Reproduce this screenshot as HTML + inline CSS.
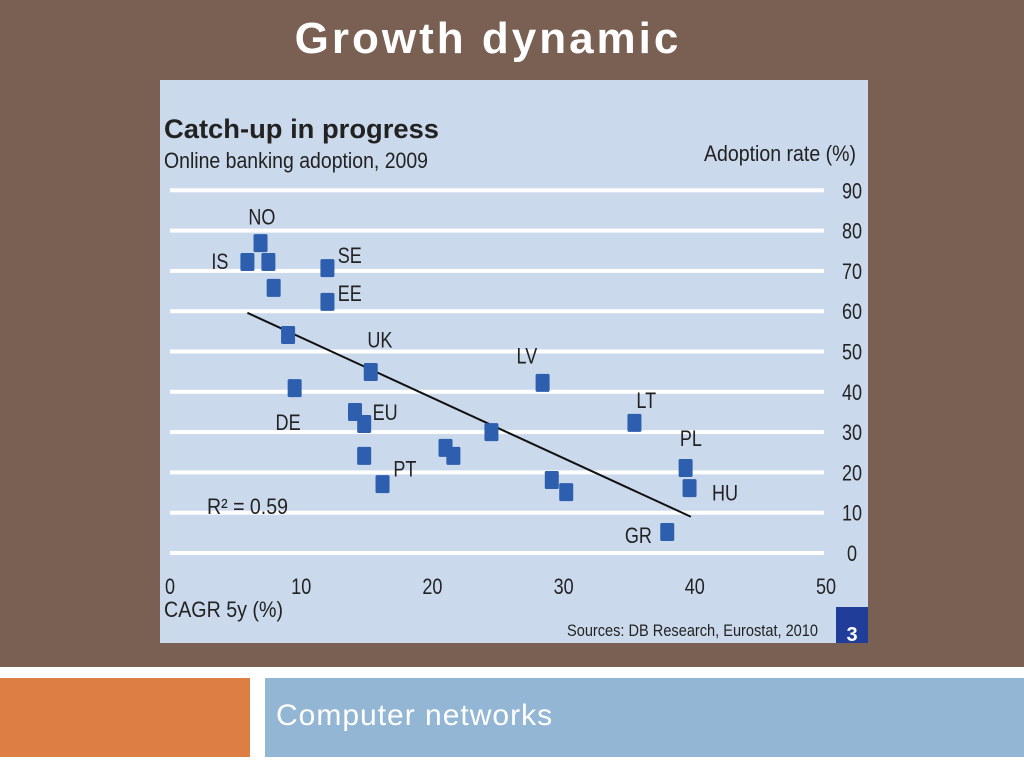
<!DOCTYPE html>
<html><head><meta charset="utf-8">
<style>
body{margin:0;width:1024px;height:768px;overflow:hidden;background:#fff;font-family:"Liberation Sans",sans-serif}
#top{position:absolute;left:0;top:0;width:1024px;height:667px;background:#7a5f53}
#title{position:absolute;left:0;width:976px;top:14px;text-align:center;color:#fff;font-size:44px;font-weight:bold;letter-spacing:3px}
#orange{position:absolute;left:0;top:678px;width:250px;height:79px;background:#dd7f45}
#blue{position:absolute;left:265px;top:678px;width:759px;height:79px;background:#93b6d4}
#foot{position:absolute;left:276px;top:699px;color:#fff;font-size:30px;letter-spacing:1px}
svg text{font-family:"Liberation Sans",sans-serif;fill:#222}
</style></head><body>
<div id="top"></div>
<div id="title">Growth dynamic</div>
<div id="orange"></div>
<div id="blue"></div>
<div id="foot">Computer networks</div>
<svg id="chart" style="position:absolute;left:0;top:0" width="1024" height="768">
<rect x="160" y="80" width="708" height="563" fill="#cbd9ec"/>
<g id="grid"></g>
<text x="164" y="138" font-size="27" font-weight="bold" fill="#1a1a1a" textLength="275" lengthAdjust="spacingAndGlyphs">Catch-up in progress</text>
<text x="164" y="168" font-size="22" textLength="264" lengthAdjust="spacingAndGlyphs">Online banking adoption, 2009</text>
<text x="704" y="161" font-size="22" textLength="152" lengthAdjust="spacingAndGlyphs">Adoption rate (%)</text>
<text x="164" y="617" font-size="22" textLength="119" lengthAdjust="spacingAndGlyphs">CAGR 5y (%)</text>
<text x="567" y="636" font-size="17" textLength="251" lengthAdjust="spacingAndGlyphs">Sources: DB Research, Eurostat, 2010</text>
<rect x="836" y="607" width="32" height="36" fill="#1f3d99"/>
<text x="852" y="641" font-size="20" font-weight="bold" text-anchor="middle" style="fill:#fff">3</text>
<text x="207" y="514" font-size="22" textLength="81" lengthAdjust="spacingAndGlyphs">R² = 0.59</text>
<g id="ticks"></g><g id="trend"></g><g id="pts"></g><g id="labels"></g>
</svg>
<script>
const yTicks=[0,10,20,30,40,50,60,70,80,90];
const xTicks=[0,10,20,30,40,50];
const cagr=[6.9,5.9,7.5,7.9,12.0,12.0,9.0,15.3,9.5,14.1,14.8,14.8,16.2,21.0,21.6,24.5,28.4,29.1,30.2,35.4,39.3,39.6,37.9];
const adoption=[76.9,72.2,72.2,65.8,70.7,62.3,54.1,44.9,40.9,35.0,32.0,24.1,17.1,26.1,24.1,30.0,42.2,18.1,15.1,32.3,21.1,16.1,5.2];
const labelText=["NO","IS","SE","EE","UK","DE","EU","PT","LV","LT","PL","HU","GR"];
const labelX=[7.0,3.8,13.7,13.7,16.0,9.0,16.4,17.9,27.2,36.3,39.7,42.3,35.7];
const labelY=[83.5,72.5,74.0,64.5,53.0,32.5,35.0,21.0,49.0,38.0,28.5,15.0,4.5];
const trendX=[5.9,39.7];
const trendY=[59.6,9.0];
const X=v=>170+v*13.12, Y=v=>553-v*4.03;
const NS='http://www.w3.org/2000/svg';
function mk(t,a,p){const e=document.createElementNS(NS,t);for(const k in a)e.setAttribute(k,a[k]);p.appendChild(e);return e;}
function ntext(x,y,s,p){return mk('text',{x:0,y:0,'font-size':22,'text-anchor':'middle',transform:'translate('+x+','+y+') scale(0.82,1)'},p);}
const grid=document.getElementById('grid'),ticks=document.getElementById('ticks');
yTicks.forEach(v=>{
 const l=mk('rect',{x:170,y:Y(v)-2,width:654,height:4,fill:'#fff'},grid);
 
 
 const t=ntext(852,Y(v)+8,v,ticks);t.textContent=v;
 
 
});
xTicks.forEach(v=>{
 const t=ntext(X(v),594,v,ticks);t.textContent=v;
 
 
});
const tl=mk('line',{x1:X(trendX[0]),y1:Y(trendY[0]),x2:X(trendX[1]),y2:Y(trendY[1]),stroke:'#111','stroke-width':2},document.getElementById('trend'));


const pts=document.getElementById('pts');
cagr.forEach((c,i)=>{
 const r=mk('rect',{x:X(c)-7,y:Y(adoption[i])-9,width:14,height:18,fill:'#2d5fae',rx:1.5},pts);
 
 
});
const lab=document.getElementById('labels');
labelText.forEach((s,i)=>{
 const t=ntext(X(labelX[i]),Y(labelY[i])+8,s,lab);t.textContent=s;
 
 
});
</script>
</body></html>
